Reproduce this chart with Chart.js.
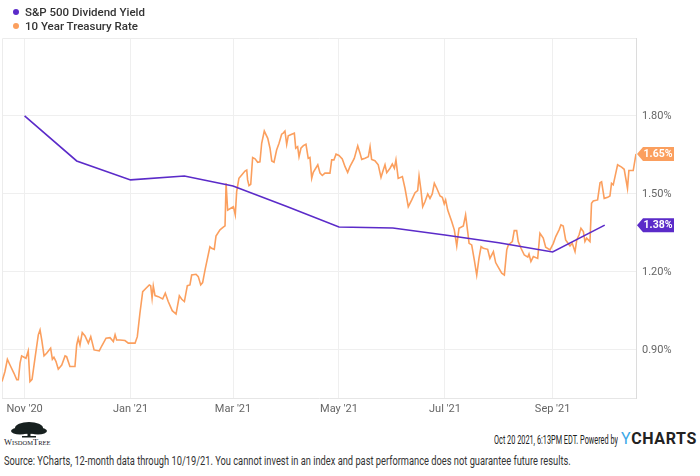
<!DOCTYPE html>
<html>
<head>
<meta charset="utf-8">
<script src="https://cdn.jsdelivr.net/npm/chart.js@4"></script>
<style>
  body { margin: 0; background: #fff; font-family: Roboto, "Noto Sans", sans-serif; }
  #wrap { position: relative; width: 700px; height: 476px; overflow: hidden; }
  #chart { position: absolute; left: 0; top: 0; }
  .leg { position: absolute; left: 25px; font-size: 11.5px; font-weight: 500; color: #333; }
  .dot { position: absolute; left: -12px; top: 4px; width: 6px; height: 6px; border-radius: 50%; }
  .narrow { position: absolute; white-space: nowrap; font-family: Roboto, sans-serif; }
  #stamp { left: 494px; top: 432px; font-size: 13px; color: #222; transform-origin: left top; }
  #ych { position: absolute; left: 621px; top: 429px; font-family: Roboto, sans-serif; font-weight: 700; font-size: 16px; color: #222; letter-spacing: 0.6px; }
  #ych span { color: #3aa8e8; font-weight: 400; }
  #source { left: 4px; top: 453px; font-size: 13px; color: #333; transform-origin: left top; }
  #logo { position: absolute; left: 2px; top: 420px; }
</style>
</head>
<body>
<div id="wrap">
  <canvas id="chart" width="700" height="420"></canvas>
  <div class="leg" style="top:5px"><span class="dot" style="background:#5b2bc9"></span>S&amp;P 500 Dividend Yield</div>
  <div class="leg" style="top:19px"><span class="dot" style="background:#fb9f5e"></span>10 Year Treasury Rate</div>
  <svg id="logo" width="60" height="28" viewBox="0 0 60 28">
    <ellipse cx="27" cy="8" rx="14" ry="6" fill="#17201f"/>
    <ellipse cx="18" cy="11" rx="9" ry="3.5" fill="#17201f"/>
    <ellipse cx="36" cy="11" rx="9" ry="3.5" fill="#17201f"/>
    <rect x="25.5" y="11" width="3" height="6" fill="#17201f"/>
    <rect x="20" y="16" width="14" height="1.5" fill="#17201f"/>
    <text x="2" y="25" font-family="Liberation Serif, serif" font-size="8.5" fill="#17201f">W<tspan font-size="6.5">ISDOM</tspan>T<tspan font-size="6.5">REE</tspan></text>
  </svg>
  <div id="stamp" class="narrow">Oct 20 2021, 6:13PM EDT. Powered by</div>
  <div id="ych"><span>Y</span>CHARTS</div>
  <div id="source" class="narrow">Source: YCharts, 12-month data through 10/19/21. You cannot invest in an index and past performance does not guarantee future results.</div>
</div>
<script>
// x values are days since 2020-10-19
var xTickDays = [13, 74, 133, 194, 255, 317];
var xTickLabels = ["Nov '20", "Jan '21", "Mar '21", "May '21", "Jul '21", "Sep '21"];
var yTicks = [0.9, 1.2, 1.5, 1.8];

var divDay = [13, 43, 74, 105, 133, 164, 194, 225, 255, 286, 317, 347];
var divYield = [1.80, 1.627, 1.554, 1.569, 1.531, 1.452, 1.373, 1.369, 1.342, 1.312, 1.277, 1.38];

var tsyDay = [0, 1.7, 3.1, 4.6, 6.9, 8.5, 9.4, 10.4, 11.3, 12.7, 13.8, 15.1, 16.1, 17.3, 19.0, 20.9, 21.9, 22.9,
  24.2, 25.7, 28.0, 29.0, 29.9, 31.1, 32.4, 34.4, 36.3, 37.2, 39.1, 42.0, 43.0, 43.9, 44.9, 46.2, 47.8, 49.7,
  51.1, 53.0, 56.0, 57.4, 59.9, 62.2, 64.1, 65.1, 66.0, 67.9, 70.8, 72.7, 76.6, 77.9, 79.4, 81.0, 82.9, 84.8,
  85.6, 86.4, 87.1, 88.1, 90.0, 92.5, 94.0, 95.7, 98.0, 100.2, 102.1, 103.5, 105.0, 106.7, 108.2, 109.2, 111.7,
  113.0, 114.4, 115.5, 116.9, 119.7, 120.7, 122.2, 123.2, 125.5, 127.4, 128.4, 129.0, 129.9, 131.7, 133.2, 134.3,
  135.1, 136.4, 138.0, 139.9, 140.9, 141.4, 142.2, 143.2, 144.3, 145.7, 147.2, 148.5, 149.5, 151.0, 153.0, 154.3,
  155.3, 156.6, 158.1, 159.5, 161.0, 161.9, 162.9, 163.9, 164.8, 166.8, 168.3, 169.1, 170.2, 171.0, 172.1, 173.5,
  175.0, 176.3, 177.3, 178.3, 179.2, 181.8, 183.1, 184.4, 185.9, 188.8, 189.8, 191.1, 192.3, 194.0, 195.9, 197.5,
  199.0, 200.3, 202.8, 204.8, 206.1, 207.1, 209.0, 210.9, 211.9, 212.8, 214.7, 216.6, 218.2, 219.5, 220.5, 221.5,
  223.4, 224.7, 225.9, 226.8, 228.1, 230.5, 232.0, 233.9, 235.9, 237.8, 239.3, 240.1, 241.2, 242.2, 243.5, 245.1,
  246.4, 247.7, 248.9, 250.3, 252.2, 253.5, 254.6, 255.4, 256.6, 258.9, 260.4, 261.8, 263.1, 265.6, 266.9, 268.1,
  268.9, 270.4, 271.9, 273.3, 274.6, 275.8, 277.1, 279.6, 280.9, 282.9, 284.2, 286.1, 287.7, 289.2, 290.6, 291.5,
  293.8, 294.9, 296.3, 297.2, 298.8, 300.7, 302.7, 303.4, 304.5, 305.9, 308.4, 309.7, 311.6, 313.0, 315.5, 317.4,
  318.8, 320.7, 321.8, 323.1, 324.5, 327.0, 328.3, 329.9, 330.9, 332.2, 333.3, 334.7, 335.6, 336.6, 338.5, 339.4,
  340.4, 342.9, 344.3, 345.2, 346.7, 348.7, 350.0, 350.9, 351.9, 354.4, 356.7, 358.2, 360.1, 360.9, 363.4, 365];
var tsyRate = [0.778, 0.817, 0.864, 0.842, 0.810, 0.785, 0.785, 0.849, 0.877, 0.872, 0.868, 0.896, 0.778, 0.787, 0.868, 0.958, 0.977, 0.938,
  0.877, 0.887, 0.907, 0.864, 0.872, 0.855, 0.826, 0.842, 0.877, 0.874, 0.836, 0.836, 0.919, 0.945, 0.919, 0.967, 0.954, 0.926,
  0.951, 0.900, 0.896, 0.915, 0.945, 0.947, 0.932, 0.958, 0.938, 0.938, 0.936, 0.926, 0.926, 0.951, 1.041, 1.124, 1.137, 1.150,
  1.147, 1.099, 1.146, 1.109, 1.105, 1.096, 1.118, 1.086, 1.051, 1.038, 1.108, 1.095, 1.086, 1.147, 1.150, 1.188, 1.191,
  1.182, 1.150, 1.159, 1.208, 1.297, 1.291, 1.287, 1.338, 1.362, 1.372, 1.377, 1.541, 1.438, 1.445, 1.451, 1.419,
  1.509, 1.560, 1.573, 1.588, 1.592, 1.554, 1.532, 1.537, 1.640, 1.635, 1.622, 1.624, 1.695, 1.742, 1.714, 1.676,
  1.627, 1.622, 1.669, 1.695, 1.730, 1.734, 1.742, 1.691, 1.724, 1.730, 1.734, 1.676, 1.682, 1.643, 1.676, 1.686,
  1.691, 1.637, 1.640, 1.560, 1.583, 1.612, 1.580, 1.571, 1.580, 1.580, 1.631, 1.631, 1.653, 1.648, 1.635, 1.605,
  1.583, 1.605, 1.637, 1.685, 1.657, 1.633, 1.637, 1.643, 1.682, 1.633, 1.628, 1.612, 1.564, 1.592, 1.612, 1.582,
  1.599, 1.615, 1.599, 1.631, 1.560, 1.567, 1.522, 1.451, 1.477, 1.505, 1.513, 1.569, 1.515, 1.451, 1.470, 1.500,
  1.483, 1.500, 1.541, 1.522, 1.492, 1.487, 1.462, 1.477, 1.438, 1.394, 1.362, 1.300, 1.368, 1.377, 1.419, 1.355,
  1.310, 1.304, 1.246, 1.188, 1.252, 1.297, 1.291, 1.287, 1.252, 1.278, 1.236, 1.214, 1.195, 1.188, 1.285, 1.304,
  1.317, 1.359, 1.359, 1.317, 1.291, 1.265, 1.257, 1.269, 1.240, 1.259, 1.252, 1.349, 1.330, 1.295, 1.285, 1.310,
  1.336, 1.362, 1.381, 1.377, 1.323, 1.300, 1.310, 1.278, 1.323, 1.342, 1.368, 1.355, 1.317, 1.330, 1.317, 1.464,
  1.473, 1.477, 1.543, 1.547, 1.483, 1.487, 1.492, 1.541, 1.535, 1.612, 1.603, 1.595, 1.522, 1.590, 1.590, 1.654];

var purple = '#5b2bc9';
var orange = '#fb9f5e';

function pts(xs, ys) {
  return xs.map(function (x, i) { return { x: x, y: ys[i] }; });
}

// squeeze footer text to the condensed widths of the original
function fitWidth(id, w) {
  var el = document.getElementById(id);
  el.style.transform = 'scaleX(' + (w / el.offsetWidth) + ')';
}
fitWidth('stamp', 124);
fitWidth('source', 567);

// light frame on the left and top of the plot
var framePlugin = {
  id: 'frame',
  beforeDatasetsDraw: function (chart) {
    var a = chart.chartArea, ctx = chart.ctx;
    ctx.save();
    ctx.strokeStyle = '#ececec';
    ctx.lineWidth = 1;
    ctx.beginPath();
    ctx.moveTo(a.left + 0.5, a.bottom);
    ctx.lineTo(a.left + 0.5, a.top + 0.5);
    ctx.lineTo(a.right, a.top + 0.5);
    ctx.stroke();
    ctx.restore();
  }
};

// value tags for the last point of each series
var tagPlugin = {
  id: 'tags',
  afterDraw: function (chart) {
    var ctx = chart.ctx;
    var x0 = chart.chartArea.right + 1;
    chart.data.datasets.forEach(function (ds) {
      var last = ds.data[ds.data.length - 1];
      var y = chart.scales.y.getPixelForValue(last.y);
      ctx.save();
      ctx.fillStyle = ds.borderColor;
      ctx.beginPath();
      ctx.moveTo(x0, y);
      ctx.lineTo(x0 + 6, y - 7);
      ctx.lineTo(x0 + 37, y - 7);
      ctx.lineTo(x0 + 37, y + 7);
      ctx.lineTo(x0 + 6, y + 7);
      ctx.closePath();
      ctx.fill();
      ctx.fillStyle = '#fff';
      ctx.font = 'bold 10.5px Roboto';
      ctx.textAlign = 'center';
      ctx.textBaseline = 'middle';
      ctx.fillText(last.y.toFixed(2) + '%', x0 + 21, y + 0.5);
      ctx.restore();
    });
  }
};

var chart = new Chart(document.getElementById('chart'), {
  type: 'line',
  data: {
    datasets: [
      {
        label: 'S&P 500 Dividend Yield',
        data: pts(divDay, divYield),
        borderColor: purple,
        borderWidth: 1.6,
        pointRadius: 0,
        tension: 0
      },
      {
        label: '10 Year Treasury Rate',
        data: pts(tsyDay, tsyRate),
        borderColor: orange,
        borderWidth: 1.6,
        pointRadius: 0,
        tension: 0
      }
    ]
  },
  options: {
    responsive: false,
    animation: false,
    devicePixelRatio: 1,
    layout: { padding: { left: 2, top: 38, right: 0, bottom: 0 } },
    plugins: { legend: { display: false }, tooltip: { enabled: false } },
    scales: {
      x: {
        type: 'linear',
        min: 0,
        max: 365,
        afterBuildTicks: function (scale) {
          scale.ticks = xTickDays.map(function (v) { return { value: v }; });
        },
        afterFit: function (scale) { scale.height = 22; },
        grid: { color: '#efefef', drawTicks: false },
        border: { color: '#e6e6e6' },
        ticks: {
          autoSkip: false,
          maxRotation: 0,
          padding: 5,
          color: '#666',
          font: { family: 'Roboto', size: 11 },
          callback: function (v, i) { return xTickLabels[i]; }
        }
      },
      y: {
        position: 'right',
        min: 0.715,
        max: 2.10,
        afterBuildTicks: function (scale) {
          scale.ticks = yTicks.map(function (v) { return { value: v }; });
        },
        afterFit: function (scale) { scale.width = 64; },
        grid: { color: '#efefef', drawTicks: false },
        border: { color: '#dcdcdc' },
        ticks: {
          padding: 6,
          color: '#666',
          font: { family: 'Roboto', size: 11 },
          callback: function (v) { return v.toFixed(2) + '%'; }
        }
      }
    }
  },
  plugins: [framePlugin, tagPlugin]
});
</script>
</body>
</html>
